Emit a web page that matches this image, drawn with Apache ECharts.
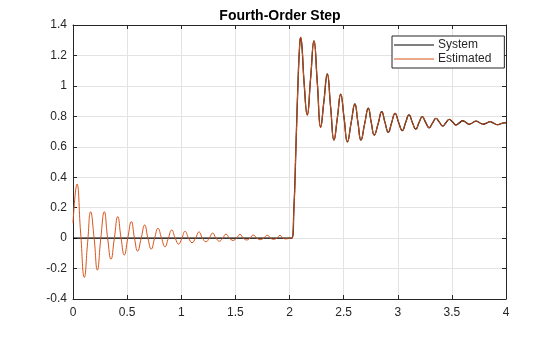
<!DOCTYPE html>
<html>
<head>
<meta charset="utf-8">
<script src="https://cdn.jsdelivr.net/npm/echarts@6/dist/echarts.min.js"></script>
<style>html,body{margin:0;padding:0;background:#fff}#c{width:560px;height:337px}</style>
</head>
<body>
<div id="c"></div>
<script>
// ---- data ----
const chartTitle = 'Fourth-Order Step';
const seriesNames = ['System', 'Estimated'];
const xTicks = [0, 0.5, 1, 1.5, 2, 2.5, 3, 3.5, 4];
const yTicks = [-0.4, -0.2, 0, 0.2, 0.4, 0.6, 0.8, 1, 1.2, 1.4];

// pre-step ringing of the estimated model (t < 2)
const preT = [0.000, 0.037, 0.070, 0.105, 0.135, 0.163, 0.195, 0.225, 0.257, 0.289,
  0.320, 0.351, 0.382, 0.413, 0.444, 0.474, 0.506, 0.539, 0.568, 0.597,
  0.630, 0.662, 0.692, 0.723, 0.754, 0.785, 0.818, 0.850, 0.881, 0.912,
  0.944, 0.976, 1.006, 1.035, 1.068, 1.100, 1.132, 1.164, 1.196, 1.228,
  1.259, 1.290, 1.321, 1.352, 1.383, 1.413, 1.446, 1.478, 1.510, 1.543,
  1.574, 1.604, 1.635, 1.665, 1.698, 1.730, 1.762, 1.795, 1.824, 1.853,
  1.883, 1.912, 1.941, 1.970, 2.000];
const preV = [0.100, 0.355, 0.040, -0.258, -0.030, 0.173, 0.000, -0.210, 0.000, 0.173,
  0.000, -0.139, 0.000, 0.141, 0.000, -0.111, 0.000, 0.108, 0.000, -0.085,
  0.000, 0.086, 0.000, -0.072, 0.000, 0.064, 0.000, -0.057, 0.000, 0.053,
  0.000, -0.039, 0.000, 0.045, 0.000, -0.030, 0.000, 0.040, 0.000, -0.024,
  0.000, 0.033, 0.000, -0.020, 0.000, 0.026, 0.000, -0.015, 0.000, 0.024,
  0.000, -0.012, 0.000, 0.020, 0.000, -0.010, 0.000, 0.019, 0.000, -0.008,
  0.000, 0.018, 0.000, -0.005, 0.000];

// system stays at zero before the step
const flatT = [0, 2.02];
const flatV = [0, 0];

// step response (shared shape, t >= 2.02)
const stepT = [2.020, 2.040, 2.060, 2.080, 2.095, 2.103, 2.115, 2.135, 2.164, 2.195,
  2.226, 2.257, 2.288, 2.318, 2.349, 2.380, 2.411, 2.442, 2.473, 2.504,
  2.535, 2.570, 2.604, 2.632, 2.660, 2.694, 2.728, 2.755, 2.783, 2.818,
  2.852, 2.882, 2.913, 2.944, 2.975, 3.008, 3.042, 3.073, 3.104, 3.135,
  3.167, 3.197, 3.227, 3.258, 3.290, 3.322, 3.353, 3.384, 3.415, 3.445,
  3.476, 3.507, 3.538, 3.569, 3.600, 3.630, 3.661, 3.692, 3.723, 3.756,
  3.790, 3.821, 3.852, 3.886, 3.920, 3.955, 3.990, 4.000];
const stepV = [0.000, 0.180, 0.610, 1.050, 1.280, 1.319, 1.260, 1.020, 0.809, 1.050,
  1.295, 1.020, 0.728, 0.900, 1.078, 0.860, 0.644, 0.790, 0.945, 0.790,
  0.633, 0.760, 0.881, 0.760, 0.644, 0.750, 0.853, 0.760, 0.677, 0.750,
  0.830, 0.760, 0.695, 0.760, 0.820, 0.760, 0.706, 0.760, 0.809, 0.760,
  0.716, 0.760, 0.798, 0.760, 0.725, 0.757, 0.787, 0.762, 0.736, 0.758,
  0.780, 0.762, 0.743, 0.757, 0.771, 0.760, 0.748, 0.758, 0.769, 0.758,
  0.748, 0.756, 0.765, 0.755, 0.745, 0.752, 0.758, 0.757];

// ---- build ----
const pairs = (ts, vs) => ts.map((t, i) => [t, vs[i]]);
const systemData = pairs(flatT, flatV).concat(pairs(stepT, stepV).slice(1));
const estData = pairs(preT, preV).concat(pairs(stepT, stepV));

const axisColor = '#262626';
const gridColor = '#e3e3e3';
const font = 'Liberation Sans, Arial, Helvetica, sans-serif';

const chart = echarts.init(document.getElementById('c'), null, {renderer: 'canvas'});
const baseX = {
  type: 'value', min: xTicks[0], max: xTicks[xTicks.length - 1], interval: 0.5,
  axisLine: {show: true, onZero: false, lineStyle: {color: axisColor, width: 1}},
  axisTick: {show: true, inside: true, length: 4, lineStyle: {color: axisColor}},
  splitLine: {show: false}
};
const baseY = {
  type: 'value', min: yTicks[0], max: yTicks[yTicks.length - 1], interval: 0.2,
  axisLine: {show: true, onZero: false, lineStyle: {color: axisColor, width: 1}},
  axisTick: {show: true, inside: true, length: 4, lineStyle: {color: axisColor}},
  splitLine: {show: false}
};
chart.setOption({
  animation: false,
  backgroundColor: '#fff',
  title: {
    text: chartTitle, left: 'center', top: 4,
    textStyle: {fontFamily: font, fontSize: 14, fontWeight: 'bold', color: '#000'}
  },
  grid: {left: 73, top: 25, width: 433, height: 274, containLabel: false},
  legend: {
    orient: 'vertical', left: 392, top: 36,
    data: seriesNames,
    icon: 'rect', itemWidth: 40, itemHeight: 1, itemGap: 0,
    padding: [2, 13, 2, 2],
    backgroundColor: '#fff', borderColor: axisColor, borderWidth: 1, borderRadius: 0,
    textStyle: {fontFamily: font, fontSize: 12, color: axisColor, lineHeight: 14, padding: [0, 0, 0, -1]},
    selectedMode: false
  },
  xAxis: [
    Object.assign({}, baseX, {
      position: 'bottom',
      splitLine: {show: true, lineStyle: {color: gridColor, width: 1}},
      axisLabel: {show: true, color: axisColor, fontFamily: font, fontSize: 12, margin: 8}
    }),
    Object.assign({}, baseX, {position: 'top', axisLabel: {show: false}})
  ],
  yAxis: [
    Object.assign({}, baseY, {
      position: 'left',
      splitLine: {show: true, lineStyle: {color: gridColor, width: 1}},
      axisLabel: {show: true, color: axisColor, fontFamily: font, fontSize: 12, margin: 6}
    }),
    Object.assign({}, baseY, {position: 'right', axisLabel: {show: false}})
  ],
  series: [
    {
      name: seriesNames[0], type: 'line', data: systemData,
      xAxisIndex: 0, yAxisIndex: 0,
      showSymbol: false, smooth: 0.5, color: '#000000',
      lineStyle: {color: '#000000', width: 1.3}, z: 2
    },
    {
      name: seriesNames[1], type: 'line', data: estData,
      xAxisIndex: 0, yAxisIndex: 0,
      showSymbol: false, smooth: 0.5, color: '#D95319',
      lineStyle: {color: '#D95319', width: 1}, z: 3
    }
  ]
});
</script>
</body>
</html>
